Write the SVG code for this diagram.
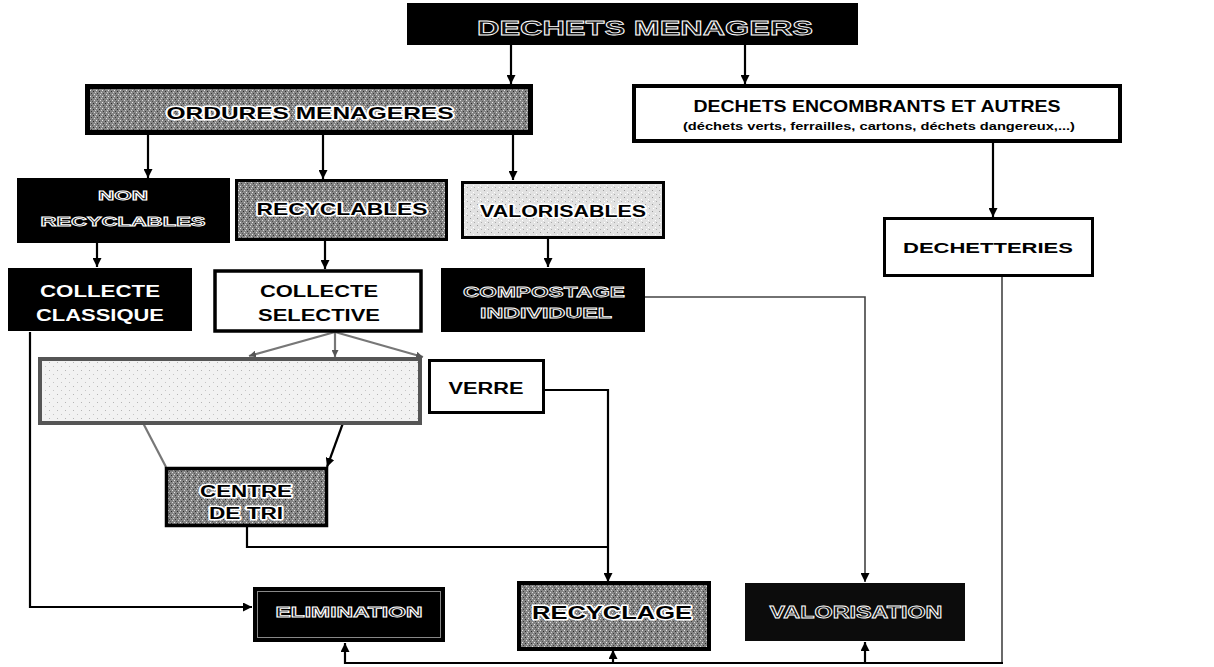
<svg xmlns="http://www.w3.org/2000/svg" width="1214" height="667" viewBox="0 0 1214 667">
<defs>
<style>
text{font-family:"Liberation Sans",Arial,sans-serif;font-weight:bold;text-anchor:middle}
.hollow{fill:#111;stroke:#fff;stroke-width:0.8}
.halo{fill:#000;stroke:#fff;stroke-width:3;paint-order:stroke;stroke-linejoin:round}
.wt{fill:#fff}
.bt{fill:#000}
.blk{fill:#000}
.wbox{fill:#fff;stroke:#000}
.gbox{fill:url(#gray);stroke:#000}
.conn{fill:none;stroke:#000;stroke-width:2.2}
.thin{fill:none;stroke:#444;stroke-width:1.6}
.grayc{fill:none;stroke:#777;stroke-width:2.2}
</style>
<pattern id="gray" width="6" height="6" patternUnits="userSpaceOnUse">
<rect width="6" height="6" fill="#858585"/>
<rect x="0" y="0" width="1" height="1" fill="#e8e8e8"/>
<rect x="3" y="1" width="1" height="1" fill="#2a2a2a"/>
<rect x="4" y="4" width="1" height="1" fill="#dcdcdc"/>
<rect x="1" y="3" width="1" height="1" fill="#3a3a3a"/>
<rect x="5" y="2" width="1" height="1" fill="#cfcfcf"/>
<rect x="2" y="5" width="1" height="1" fill="#555"/>
</pattern>
<pattern id="light" width="7" height="7" patternUnits="userSpaceOnUse">
<rect width="7" height="7" fill="#e2e2e2"/>
<rect x="1" y="1" width="1" height="1" fill="#9a9a9a"/>
<rect x="4" y="3" width="1" height="1" fill="#fff"/>
<rect x="5" y="5" width="1" height="1" fill="#aaa"/>
<rect x="2" y="5" width="1" height="1" fill="#fff"/>
</pattern>
<pattern id="lighter" width="8" height="8" patternUnits="userSpaceOnUse">
<rect width="8" height="8" fill="#f2f2f2"/>
<rect x="1" y="2" width="1" height="1" fill="#b5b5b5"/>
<rect x="5" y="6" width="1" height="1" fill="#c5c5c5"/>
</pattern>
<marker id="arr" viewBox="0 0 10 10" refX="10" refY="5" markerWidth="9" markerHeight="9" markerUnits="userSpaceOnUse" orient="auto">
<path d="M0,0 L10,5 L0,10 z" fill="#000"/>
</marker>
<marker id="arrs" viewBox="0 0 10 10" refX="10" refY="5" markerWidth="7" markerHeight="7" markerUnits="userSpaceOnUse" orient="auto">
<path d="M0,0 L10,5 L0,10 z" fill="#555"/>
</marker>
</defs>
<rect width="1214" height="667" fill="#fff"/>

<g id="connectors">
<path class="conn" d="M511,45 V84" marker-end="url(#arr)"/>
<path class="conn" d="M745,45 V84" marker-end="url(#arr)"/>
<path class="conn" d="M148,134 V178" marker-end="url(#arr)"/>
<path class="conn" d="M323,134 V179" marker-end="url(#arr)"/>
<path class="conn" d="M513,134 V180" marker-end="url(#arr)"/>
<path class="conn" d="M993,142 V217" marker-end="url(#arr)"/>
<path class="conn" d="M97,243 V267" marker-end="url(#arr)"/>
<path class="conn" d="M325,240 V269" marker-end="url(#arr)"/>
<path class="conn" d="M548,238 V267" marker-end="url(#arr)"/>
<path class="grayc" d="M335,332 L249,356" marker-end="url(#arrs)"/>
<path class="grayc" d="M335,332 V357" marker-end="url(#arrs)"/>
<path class="grayc" d="M335,332 L423,357" marker-end="url(#arrs)"/>
<path class="grayc" d="M142,421 L166,467"/>
<path class="conn" d="M343,423 L327,467" marker-end="url(#arr)"/>
<path class="conn" d="M30,332 V607 H252" marker-end="url(#arr)"/>
<path class="conn" d="M543,390 H608 V582" marker-end="url(#arr)"/>
<path class="conn" d="M247,525 V547 H608"/>
<path class="thin" d="M645,297 H865 V582" marker-end="url(#arr)"/>
<path class="thin" d="M1002,275 V663" stroke-width="2.4"/>
<path class="conn" d="M1003,663 H345" stroke-width="2.8"/>
<path class="conn" d="M345,664 V643" marker-end="url(#arr)"/>
<path class="conn" d="M613,664 V650" marker-end="url(#arr)"/>
<path class="conn" d="M865,664 V642" marker-end="url(#arr)"/>
</g>

<g id="n-dechets-menagers">
<rect class="blk" x="407" y="3" width="451" height="42"/>
<text class="hollow" x="645" y="35" font-size="21" textLength="336" lengthAdjust="spacingAndGlyphs">DECHETS MENAGERS</text>
</g>

<g id="n-ordures-menageres">
<rect class="gbox" x="87.5" y="86.5" width="443" height="46" stroke-width="5"/>
<text class="halo" x="310" y="119" font-size="17" textLength="287" lengthAdjust="spacingAndGlyphs">ORDURES MENAGERES</text>
</g>

<g id="n-encombrants">
<rect class="wbox" x="634" y="86" width="486" height="55" stroke-width="4"/>
<text class="bt" x="877" y="112" font-size="17" textLength="367" lengthAdjust="spacingAndGlyphs">DECHETS ENCOMBRANTS ET AUTRES</text>
<text class="bt" x="879" y="130" font-size="11" textLength="392" lengthAdjust="spacingAndGlyphs">(déchets verts, ferrailles, cartons, déchets dangereux,...)</text>
</g>

<g id="n-non-recyclables">
<rect class="blk" x="17" y="178" width="213" height="65"/>
<text class="hollow" x="123" y="200" font-size="12" textLength="50" lengthAdjust="spacingAndGlyphs">NON</text>
<text class="hollow" x="123" y="226" font-size="12" textLength="165" lengthAdjust="spacingAndGlyphs">RECYCLABLES</text>
</g>

<g id="n-recyclables">
<rect class="gbox" x="236.5" y="180.5" width="210" height="59" stroke-width="3"/>
<text class="halo" x="342" y="215" font-size="17" textLength="171" lengthAdjust="spacingAndGlyphs">RECYCLABLES</text>
</g>

<g id="n-valorisables">
<rect x="462.5" y="182.5" width="201" height="55" fill="url(#light)" stroke="#000" stroke-width="3"/>
<text class="halo" x="563" y="217" font-size="16" textLength="166" lengthAdjust="spacingAndGlyphs">VALORISABLES</text>
</g>

<g id="n-collecte-classique">
<rect class="blk" x="8" y="268" width="184" height="63"/>
<text class="wt" x="100" y="297" font-size="17" textLength="120" lengthAdjust="spacingAndGlyphs">COLLECTE</text>
<text class="wt" x="100" y="321" font-size="17" textLength="128" lengthAdjust="spacingAndGlyphs">CLASSIQUE</text>
</g>

<g id="n-collecte-selective">
<rect class="wbox" x="215" y="271" width="206" height="60" stroke-width="3.5"/>
<text class="bt" x="319" y="297" font-size="17" textLength="118" lengthAdjust="spacingAndGlyphs">COLLECTE</text>
<text class="bt" x="319" y="321" font-size="17" textLength="122" lengthAdjust="spacingAndGlyphs">SELECTIVE</text>
</g>

<g id="n-compostage">
<rect class="blk" x="441" y="268" width="204" height="64"/>
<text class="hollow" x="544" y="297" font-size="15" textLength="162" lengthAdjust="spacingAndGlyphs">COMPOSTAGE</text>
<text class="hollow" x="546" y="318" font-size="15" textLength="132" lengthAdjust="spacingAndGlyphs">INDIVIDUEL</text>
</g>

<g id="n-dechetteries">
<rect class="wbox" x="884.5" y="218.5" width="208" height="57" stroke-width="3"/>
<text class="bt" x="988" y="253" font-size="15" textLength="170" lengthAdjust="spacingAndGlyphs">DECHETTERIES</text>
</g>

<g id="n-tri-box">
<rect x="40" y="359" width="380" height="64" fill="url(#lighter)" stroke="#555" stroke-width="4"/>
</g>

<g id="n-verre">
<rect class="wbox" x="429.5" y="360.5" width="114" height="52" stroke-width="3"/>
<text class="bt" x="486" y="394" font-size="16" textLength="75" lengthAdjust="spacingAndGlyphs">VERRE</text>
</g>

<g id="n-centre-tri">
<rect class="gbox" x="166.5" y="468.5" width="160" height="57" stroke-width="3.5"/>
<text class="halo" x="246" y="497" font-size="16" textLength="92" lengthAdjust="spacingAndGlyphs">CENTRE</text>
<text class="halo" x="246" y="519" font-size="16" textLength="74" lengthAdjust="spacingAndGlyphs">DE TRI</text>
</g>

<g id="n-elimination">
<rect class="blk" x="253" y="587" width="192" height="55"/>
<rect x="257.5" y="591.5" width="183" height="46" fill="none" stroke="#888" stroke-width="1"/>
<text class="hollow" x="349" y="617" font-size="14" textLength="147" lengthAdjust="spacingAndGlyphs">ELIMINATION</text>
</g>

<g id="n-recyclage">
<rect class="gbox" x="519" y="583" width="190" height="66" stroke-width="4"/>
<text class="halo" x="612" y="619" font-size="19" textLength="160" lengthAdjust="spacingAndGlyphs">RECYCLAGE</text>
</g>

<g id="n-valorisation">
<rect x="745" y="583" width="220" height="58" fill="#0c0c0c"/>
<text class="hollow" x="856" y="618" font-size="17" textLength="173" lengthAdjust="spacingAndGlyphs">VALORISATION</text>
</g>
</svg>
